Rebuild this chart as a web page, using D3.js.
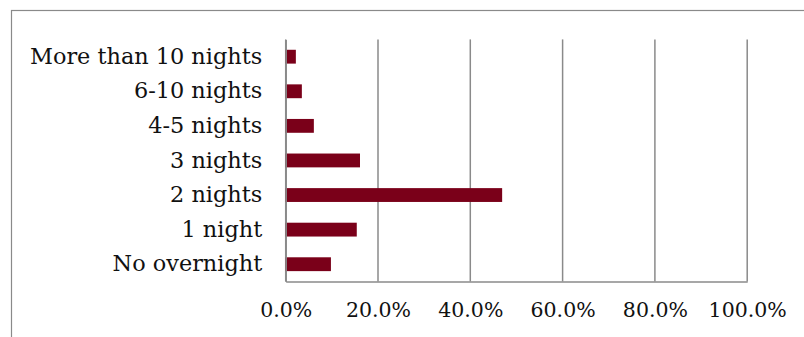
<!DOCTYPE html>
<html>
<head>
<meta charset="utf-8">
<script src="https://cdn.jsdelivr.net/npm/d3@7"></script>
<style>
  html, body { margin: 0; padding: 0; background: #fff; }
  svg { display: block; }
  text { font-family: "DejaVu Serif", serif; fill: #111; }
</style>
</head>
<body>
<svg id="chart" width="804" height="337"></svg>
<script>
// Length of stay categories, top to bottom
const categories = [
  "More than 10 nights",
  "6-10 nights",
  "4-5 nights",
  "3 nights",
  "2 nights",
  "1 night",
  "No overnight"
];
// Share of respondents (%)
const shares = [2.2, 3.5, 6.1, 16.1, 46.9, 15.4, 9.8];
// Horizontal axis ticks (%)
const xTicks = [0, 20, 40, 60, 80, 100];

const width = 804, height = 337;
const plot = { left: 285.7, right: 747.2, top: 39.4, bottom: 281.5 };
const barColor = "#7a0019";
const gridColor = "#8a8a8a";
const labelSize = 22.4;
const tickSize = 20.5;

const svg = d3.select("#chart");

// Outer chart frame (runs off the right and bottom edges)
svg.append("rect")
  .attr("x", 11.5).attr("y", 10.5)
  .attr("width", width).attr("height", height)
  .attr("fill", "none")
  .attr("stroke", "#8a8a8a")
  .attr("stroke-width", 1.2);

const x = d3.scaleLinear().domain([0, 100]).range([plot.left, plot.right]);
const y = d3.scaleBand()
  .domain(categories)
  .range([plot.top, plot.bottom])
  .paddingInner(0.6)
  .paddingOuter(0.3);

// Vertical gridlines
svg.append("g")
  .selectAll("line")
  .data(xTicks)
  .join("line")
  .attr("x1", d => x(d)).attr("x2", d => x(d))
  .attr("y1", plot.top).attr("y2", plot.bottom)
  .attr("stroke", gridColor)
  .attr("stroke-width", 1.5);

// Bars
svg.append("g")
  .selectAll("rect")
  .data(categories.map((c, i) => ({ c, v: shares[i] })))
  .join("rect")
  .attr("x", x(0))
  .attr("y", d => y(d.c))
  .attr("width", d => x(d.v) - x(0))
  .attr("height", y.bandwidth())
  .attr("fill", barColor);

// Bottom axis
const xAxis = d3.axisBottom(x)
  .tickValues(xTicks)
  .tickFormat(d => d3.format(".1f")(d) + "%")
  .tickSize(0)
  .tickPadding(21);
const gx = svg.append("g")
  .attr("transform", `translate(0,${plot.bottom})`)
  .call(xAxis);
gx.select(".domain").attr("stroke", gridColor).attr("stroke-width", 1.5);
gx.selectAll("text")
  .style("font-family", '"DejaVu Serif", serif')
  .style("font-size", tickSize + "px")
  .attr("fill", "#111");

// Left axis with category labels
const yAxis = d3.axisLeft(y).tickSize(0).tickPadding(23.5);
const gy = svg.append("g")
  .attr("transform", `translate(${plot.left},0)`)
  .call(yAxis);
gy.select(".domain").attr("stroke", gridColor).attr("stroke-width", 1.5);
gy.selectAll("text")
  .style("font-family", '"DejaVu Serif", serif')
  .style("font-size", labelSize + "px")
  .attr("fill", "#111");
</script>
</body>
</html>
